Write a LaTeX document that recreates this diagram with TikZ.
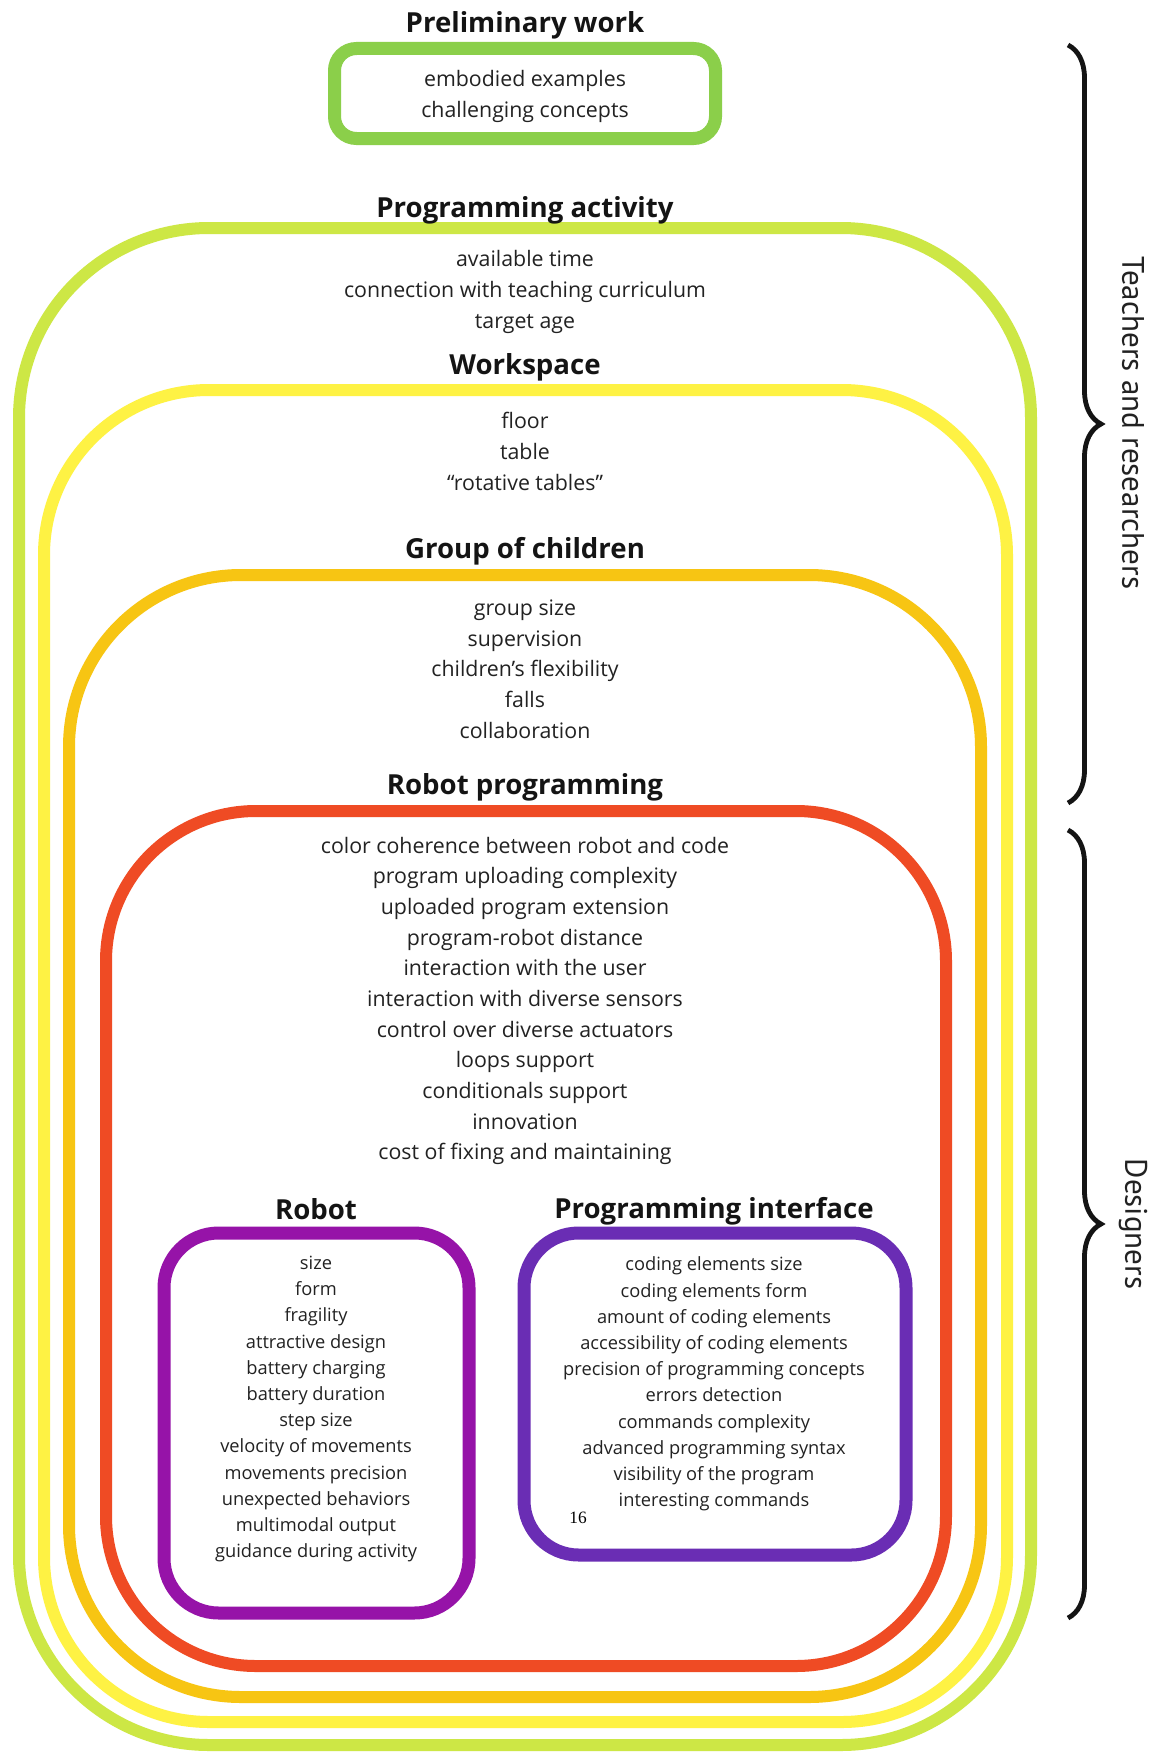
\documentclass[tikz,border=0pt]{standalone}
\usepackage{fontspec}
\setmainfont{Open Sans}
\newfontfamily\sidefont{PT Sans}
\newfontfamily\numfont{Liberation Serif}
\usetikzlibrary{decorations.pathreplacing}
\definecolor{cPrelim}{HTML}{8BCF4A}
\definecolor{cLime}{HTML}{CDE745}
\definecolor{cYellow}{HTML}{FEF244}
\definecolor{cOrange}{HTML}{F7C513}
\definecolor{cRed}{HTML}{EF4B24}
\definecolor{cRobot}{HTML}{9613A8}
\definecolor{cIface}{HTML}{6A2DB4}
\definecolor{titlec}{HTML}{141414}
\definecolor{bodyc}{HTML}{222222}
\begin{document}
\begin{tikzpicture}[x=0.75pt,y=-0.75pt,
  ring/.style={line width=9pt},
  ttl/.style={font=\fontsize{20.7}{24}\selectfont\bfseries, text=titlec, inner sep=0pt},
  lst/.style={font=\fontsize{16}{23}\selectfont, align=center, text=bodyc, inner sep=0pt},
  slst/.style={font=\fontsize{13.7}{19.65}\selectfont, align=center, text=bodyc, inner sep=0pt},
  brc/.style={decorate, decoration={brace, amplitude=24.75pt}, line width=3.6pt, color=titlec},
  side/.style={font=\sidefont\fontsize{23.3}{27}\selectfont, text=bodyc, rotate=-90, inner sep=0pt},
]
\useasboundingbox (0,0) rectangle (1157,1752);
\fill[white] (0,0) rectangle (1157,1752);

% boxes
\draw[ring, cLime, rounded corners=142.5pt] (19,228) rectangle (1031,1745);
\draw[ring, cYellow, rounded corners=123.75pt] (44,390) rectangle (1007,1722);
\draw[ring, cOrange, rounded corners=129pt] (69,575) rectangle (981,1697);
\draw[ring, cRed, rounded corners=112.5pt] (106,811) rectangle (946,1666);
\draw[ring, cRobot, line width=9.75pt, rounded corners=41pt] (164,1233) rectangle (469,1613);
\draw[ring, cIface, line width=9.75pt, rounded corners=41pt] (524,1233) rectangle (906,1555);
\draw[ring, cPrelim, line width=9.75pt, rounded corners=16.5pt] (334.5,48.5) rectangle (715.5,138.5);

% titles
\node[ttl] (tprelim) at (525,25) {Preliminary work};
\node[ttl] (tact) at (525,210) {Programming activity};
\node[ttl] (twork) at (525,367) {Workspace};
\node[ttl] (tgroup) at (525,551.5) {Group of children};
\node[ttl] (trprog) at (525,787.5) {Robot programming};
\node[ttl] (trobot) at (316,1209) {Robot};
\node[ttl] (tiface) at (714,1211) {Programming interface};

% lists
\node[lst] (lprelim) at (525,96.5) {embodied examples\\challenging concepts};
\node[lst] (lact) at (525,292) {available time\\connection with teaching curriculum\\target age};
\node[lst] (lwork) at (525,451.5) {floor\\table\\“rotative tables”};
\node[lst] (lgroup) at (525,669) {group size\\supervision\\children’s flexibility\\falls\\collaboration};
\node[lst] (lrprog) at (525,1001) {color coherence between robot and code\\program uploading complexity\\uploaded program extension\\program-robot distance\\interaction with the user\\interaction with diverse sensors\\control over diverse actuators\\loops support\\conditionals support\\innovation\\cost of fixing and maintaining};
\node[slst] (lrobot) at (316,1409) {size\\form\\fragility\\attractive design\\battery charging\\battery duration\\step size\\velocity of movements\\movements precision\\unexpected behaviors\\multimodal output\\guidance during activity};
\node[slst] (liface) at (714,1384) {coding elements size\\coding elements form\\amount of coding elements\\accessibility of coding elements\\precision of programming concepts\\errors detection\\commands complexity\\advanced programming syntax\\visibility of the program\\interesting commands};
\node[font=\numfont\fontsize{13}{15}\selectfont, inner sep=0pt] (pnum) at (578,1518) {16};

% braces
\coordinate (b1top) at (1068,45);
\coordinate (b1bot) at (1068,803);
\coordinate (b2top) at (1068,830);
\coordinate (b2bot) at (1068,1618);
\draw[brc] (b1top) -- (b1bot);
\draw[brc] (b2top) -- (b2bot);
\node[side] (steach) at (1133,423) {Teachers and researchers};
\node[side] (sdesign) at (1133,1224) {Designers};
\end{tikzpicture}
\end{document}
